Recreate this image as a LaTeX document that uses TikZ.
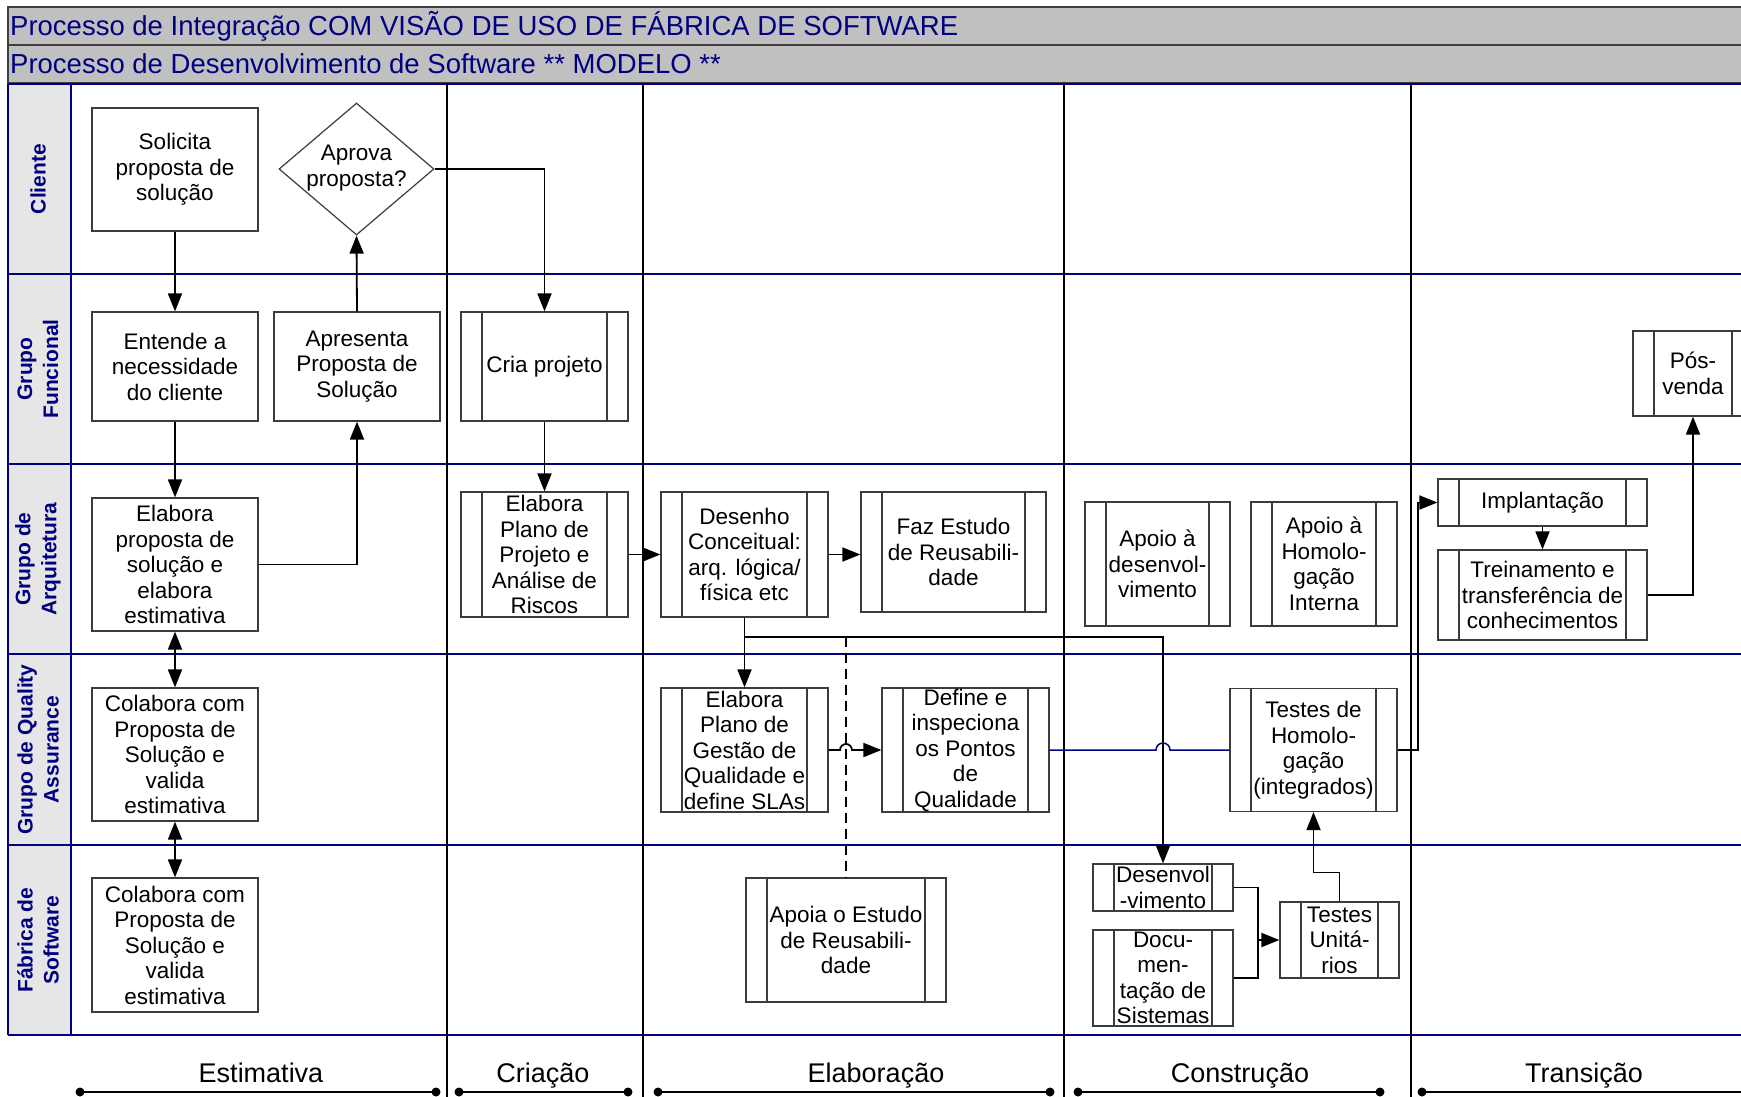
\documentclass[tikz,border=0pt]{standalone}
\usepackage{fontspec}
\setmainfont{Liberation Sans}
\usetikzlibrary{arrows.meta,calc,shapes.geometric}
\definecolor{navy}{RGB}{0,0,128}
\definecolor{titlegray}{RGB}{192,192,192}
\definecolor{hdrgray}{RGB}{230,230,230}
\definecolor{boxline}{RGB}{60,60,60}
\begin{document}
\begin{tikzpicture}[x=1pt,y=-1pt,
  box/.style={draw=boxline, line width=1.2pt, fill=white, rectangle, inner sep=0pt, align=center, font=\fontsize{22.5}{25.5}\selectfont},
  sub/.style={box, path picture={\draw[boxline, line width=1.2pt]
      ([xshift=21pt]path picture bounding box.north west) -- ([xshift=21pt]path picture bounding box.south west)
      ([xshift=-21pt]path picture bounding box.north east) -- ([xshift=-21pt]path picture bounding box.south east);}},
  conn/.style={line width=1.8pt, -{Triangle[length=18pt,width=14pt]}},
  dconn/.style={line width=1.8pt, {Triangle[length=18pt,width=14pt]}-{Triangle[length=18pt,width=14pt]}},
  lanelbl/.style={rotate=90, align=center, text=navy, font=\fontsize{21}{26}\selectfont\bfseries},
  titletxt/.style={anchor=west, text=navy, font=\fontsize{27.5}{30}\selectfont, inner sep=0pt},
  phaselbl/.style={anchor=base, font=\fontsize{27}{30}\selectfont, inner sep=0pt},
  lane/.style={draw=navy, line width=1.4pt},
  phase/.style={draw=black, line width=1.8pt},
  pbar/.style={line width=2pt}
]
\useasboundingbox (0,0) rectangle (1741,1096);
\clip (0,0) rectangle (1741,1096);
\fill[white] (0,0) rectangle (1741,1096);

% title rows
\draw[fill=titlegray, draw=gray!50!black, line width=1.2pt] (8,7) rectangle (1750,45);
\draw[fill=titlegray, draw=gray!50!black, line width=1.2pt] (8,45) rectangle (1750,83);
\node[titletxt] (t1) at (10,26) {Processo de Integração COM VISÃO DE USO DE FÁBRICA DE SOFTWARE};
\node[titletxt] (t2) at (10,64) {Processo de Desenvolvimento de Software ** MODELO **};

% lane header column
\fill[hdrgray] (8,84) rectangle (71,1035);
\foreach \yy in {84,274,464,654,845,1035} {\draw[lane] (8,\yy) -- (1750,\yy);}
\draw[lane] (8,84) -- (8,1035);
\draw[lane] (71,84) -- (71,1035);

\node[lanelbl] (l1) at (38,179) {Cliente};
\node[lanelbl] (l2) at (38,369) {Grupo\\Funcional};
\node[lanelbl] (l3) at (38,559) {Grupo de\\Arquitetura};
\node[lanelbl] (l4) at (38,749.5) {Grupo de Quality\\Assurance};
\node[lanelbl] (l5) at (38,940) {Fábrica de\\Software};

% phase lines
\foreach \xx in {447,643,1064,1411} {\draw[phase] (\xx,83) -- (\xx,1100);}

% phase labels and bars
\node[phaselbl] (p1) at (261,1082) {Estimativa};
\node[phaselbl] (p2) at (543,1082) {Criação};
\node[phaselbl] (p3) at (876,1082) {Elaboração};
\node[phaselbl] (p4) at (1240,1082) {Construção};
\node[phaselbl] (p5) at (1584,1082) {Transição};
\foreach \a/\b in {80/436,459/628,658/1050,1078/1380} {
  \draw[pbar] (\a,1092) -- (\b,1092);
  \fill (\a,1092) circle[radius=4.5pt];
  \fill (\b,1092) circle[radius=4.5pt];
}
\draw[pbar] (1422,1092) -- (1750,1092);
\fill (1422,1092) circle[radius=4.5pt];

% Estimativa nodes
\node[box, minimum width=166pt, minimum height=123pt] (sol) at (175,169.5) {Solicita\\proposta de\\solução};
\node[diamond, draw=boxline, line width=1.2pt, fill=white, minimum width=155pt, minimum height=132pt, inner sep=0pt] (aprd) at (356.5,169) {};
\node[align=center, font=\fontsize{22.5}{25.5}\selectfont, inner sep=0pt] (aprt) at (356.5,168) {Aprova\\proposta?};
\node[box, minimum width=166pt, minimum height=109pt] (ent) at (175,366.5) {Entende a\\necessidade\\do cliente};
\node[box, minimum width=166pt, minimum height=109pt] (apre) at (357,366.5) {Apresenta\\Proposta de\\Solução};
\node[box, minimum width=166pt, minimum height=133pt] (elab) at (175,564.5) {Elabora\\proposta de\\solução e\\elabora\\estimativa};
\node[box, minimum width=166pt, minimum height=133pt] (colqa) at (175,754.5) {Colabora com\\Proposta de\\Solução e\\valida\\estimativa};
\node[box, minimum width=166pt, minimum height=134pt] (colfs) at (175,945) {Colabora com\\Proposta de\\Solução e\\valida\\estimativa};

% Criacao
\node[sub, minimum width=167pt, minimum height=109pt] (cria) at (544.5,366.5) {Cria projeto};
\node[sub, minimum width=167pt, minimum height=125pt] (plano) at (544.5,554.5) {Elabora\\Plano de\\Projeto e\\Análise de\\Riscos};

% Elaboracao
\node[sub, minimum width=167pt, minimum height=125pt] (desenho) at (744.5,554.5) {Desenho\\Conceitual:\\arq. lógica/\\física etc};
\node[sub, minimum width=185pt, minimum height=120pt] (faz) at (953.5,552) {Faz Estudo\\de Reusabili-\\dade};
\node[sub, minimum width=167pt, minimum height=124pt] (gestao) at (744.5,750) {Elabora\\Plano de\\Gestão de\\Qualidade e\\define SLAs};
\node[sub, minimum width=167pt, minimum height=124pt] (define) at (965.5,750) {Define e\\inspeciona\\os Pontos\\de\\Qualidade};
\node[sub, minimum width=200pt, minimum height=124pt] (apoiaest) at (846,940) {Apoia o Estudo\\de Reusabili-\\dade};

% Construcao
\node[sub, minimum width=145pt, minimum height=124pt] (apoiodes) at (1157.5,564) {Apoio à\\desenvol-\\vimento};
\node[sub, minimum width=146pt, minimum height=124pt] (apoiohom) at (1324,564) {Apoio à\\Homolo-\\gação\\Interna};
\node[sub, minimum width=167pt, minimum height=123pt] (testhom) at (1313.5,750) {Testes de\\Homolo-\\gação\\(integrados)};
\node[sub, minimum width=140pt, minimum height=47pt] (desenv) at (1163,887.5) {Desenvol\\-vimento};
\node[sub, minimum width=140pt, minimum height=96pt] (docu) at (1163,978) {Docu-\\men-\\tação de\\Sistemas};
\node[sub, minimum width=119pt, minimum height=76pt] (testun) at (1339.5,940) {Testes\\Unitá-\\rios};

% Transicao
\node[sub, minimum width=209pt, minimum height=47pt] (impl) at (1542.5,502.5) {Implantação};
\node[sub, minimum width=209pt, minimum height=90pt] (trein) at (1542.5,595) {Treinamento e\\transferência de\\conhecimentos};
\node[sub, minimum width=120pt, minimum height=85pt] (pos) at (1693,373.5) {Pós-\\venda};

% connectors
\draw[conn] (sol.south) -- (ent.north);
\draw[conn] (ent.south) -- (elab.north);
\draw[conn] (elab.east) -| (apre.south);
\draw[conn] (apre.north) -- (aprd.south);
\draw[conn] (aprd.east) -| (cria.north);
\draw[dconn] (elab.south) -- (colqa.north);
\draw[dconn] (colqa.south) -- (colfs.north);
\draw[conn] (cria.south) -- (plano.north);
\draw[conn] (plano.east) -- (desenho.west);
\draw[conn] (desenho.east) -- (desenho.east -| faz.west);
\draw[conn] (desenho.south) -- (gestao.north);
\coordinate (jn) at ($(desenho.south)+(0,19)$);
\draw[conn] (jn) -| (desenv.north);
\draw[line width=1.8pt, dash pattern=on 10pt off 6pt] (apoiaest.north |- jn) -- (apoiaest.north);
\draw[conn] (gestao.east) -- ($(gestao.east -| apoiaest.north)+(-6,0)$) arc[start angle=180, end angle=0, radius=6pt] -- (define.west);
\draw[draw=navy, line width=1.5pt] (define.east) -- ($(define.east -| desenv.north)+(-7,0)$) arc[start angle=180, end angle=0, radius=7pt] -- (testhom.west);
\coordinate (tj) at ($(testhom.east)+(20,0)$);
\draw[conn] (testhom.east) -- (tj) |- (impl.west);
\draw[conn] (impl.south) -- (trein.north);
\draw[conn] (trein.east) -| (pos.south);
\coordinate (mj) at (1258,940);
\draw[line width=1.8pt] (desenv.east) -| (mj) |- (docu.east);
\draw[conn] (mj) -- (testun.west);
\coordinate (tu) at ($(testun.north)+(0,-29)$);
\draw[conn] (testun.north) -- (tu) -| (testhom.south);
\end{tikzpicture}
\end{document}
